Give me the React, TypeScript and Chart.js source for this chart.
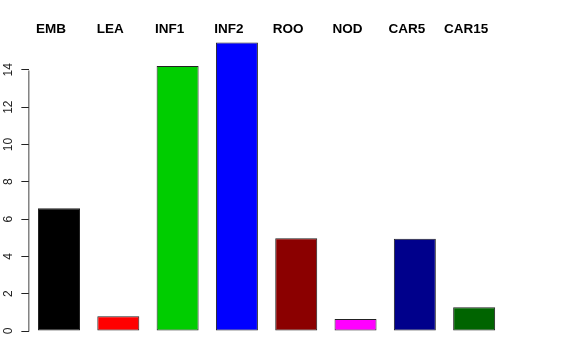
import React, { useEffect, useRef } from "react";
import { Chart, registerables } from "chart.js";

Chart.register(...registerables);

const categories = ["EMB", "LEA", "INF1", "INF2", "ROO", "NOD", "CAR5", "CAR15"];
const values = [6.58, 0.79, 14.21, 15.47, 4.97, 0.64, 4.95, 1.27];
const barColors = ["#000000", "#FF0000", "#00CD00", "#0000FF", "#8B0000", "#FF00FF", "#00008B", "#006400"];
const yTicks = [0, 2, 4, 6, 8, 10, 12, 14];

const FONT = "'Liberation Sans', Arial, Helvetica, sans-serif";

const axisLinePlugin = {
  id: "axisLine",
  afterDraw(chart: any) {
    const y = chart.scales.y;
    const ctx = chart.ctx;
    const x = chart.chartArea.left - 0.5;
    ctx.save();
    ctx.strokeStyle = "#444";
    ctx.lineWidth = 1;
    ctx.beginPath();
    ctx.moveTo(x, Math.round(y.getPixelForValue(yTicks[0])) + 0.5);
    ctx.lineTo(x, Math.round(y.getPixelForValue(yTicks[yTicks.length - 1])) + 0.5);
    ctx.stroke();
    ctx.restore();
  },
};

export default function App() {
  const ref = useRef<HTMLCanvasElement>(null);
  useEffect(() => {
    document.body.style.margin = "0";
    const chart = new Chart(ref.current!, {
      type: "bar",
      data: {
        labels: categories,
        datasets: [
          {
            data: values,
            backgroundColor: barColors,
            borderColor: "#222",
            borderWidth: 1,
            borderSkipped: false,
            barPercentage: 0.708,
            categoryPercentage: 1,
          },
        ],
      },
      options: {
        animation: false,
        responsive: false,
        maintainAspectRatio: false,
        layout: { padding: { left: 0, right: 72.2, top: 0, bottom: 29 } },
        plugins: { legend: { display: false }, tooltip: { enabled: false } },
        scales: {
          x: {
            position: "top",
            offset: true,
            grid: { display: false, drawTicks: false },
            border: { display: false },
            ticks: {
              color: "#000",
              font: { family: FONT, size: 13.5, weight: "bold" },
              labelOffset: -8,
              padding: 3,
              maxRotation: 0,
              autoSkip: false,
            },
            afterFit: (s: any) => {
              s.height = 40;
            },
          },
          y: {
            min: 0,
            max: 15.6,
            grid: {
              drawOnChartArea: false,
              drawTicks: true,
              tickLength: 8,
              color: "#222",
            },
            border: { display: false },
            afterBuildTicks: (s: any) => {
              s.ticks = yTicks.map((v) => ({ value: v }));
            },
            ticks: {
              color: "#222",
              font: { family: FONT, size: 12 },
              minRotation: 90,
              maxRotation: 90,
              crossAlign: "center",
              padding: 5.5,
            },
            afterFit: (s: any) => {
              s.width = 29.35;
            },
          },
        },
      },
      plugins: [axisLinePlugin],
    });
    return () => chart.destroy();
  }, []);
  return (
    <div style={{ position: "absolute", left: 0, top: 0, width: 576, height: 360, background: "#fff" }}>
      <canvas ref={ref} width={576} height={360} style={{ width: 576, height: 360 }} />
    </div>
  );
}
